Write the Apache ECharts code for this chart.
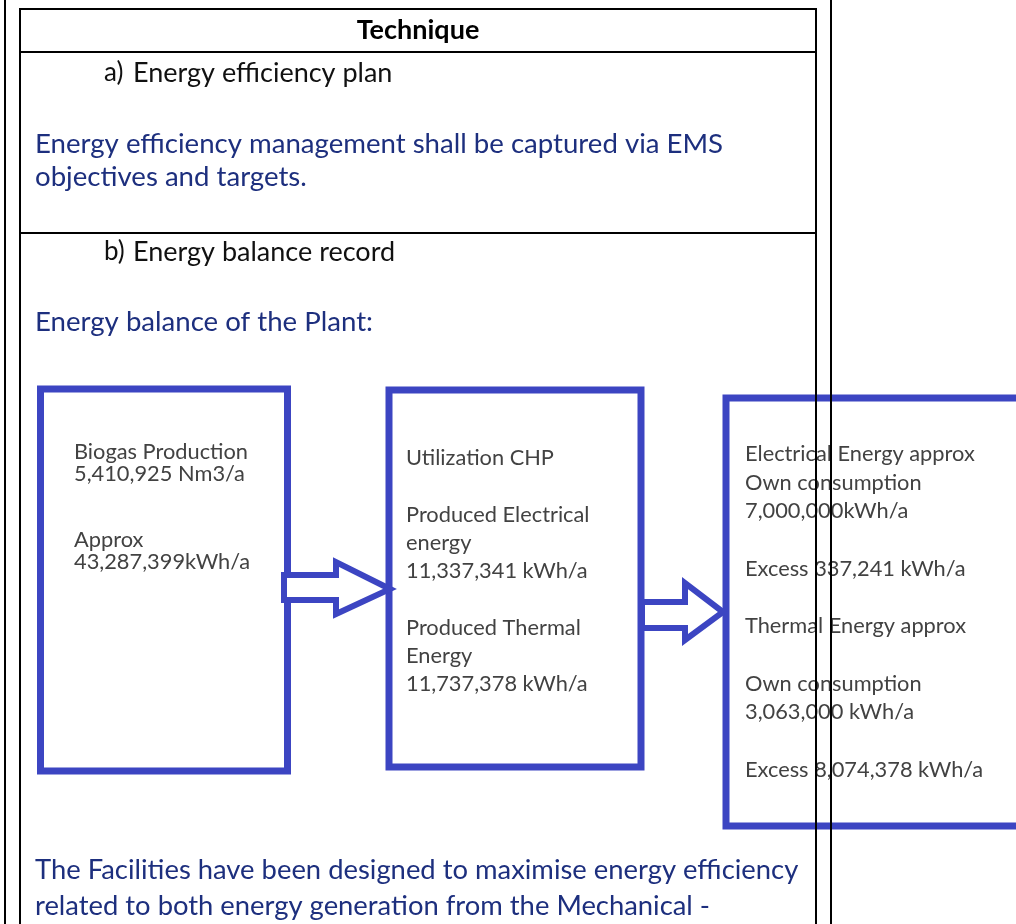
<!DOCTYPE html>
<html>
<head>
<meta charset="utf-8">
<script src="https://cdn.jsdelivr.net/npm/echarts@6/dist/echarts.min.js"></script>
<style>
html,body{margin:0;padding:0;background:#fff;}
#chart{width:1016px;height:924px;}
</style>
</head>
<body>
<div id="chart"></div>
<script>
// ---- content (text data) ----
const headerTitle = "Technique";
const sectionLabels = ["a)", "b)"];
const sectionTitles = ["Energy efficiency plan", "Energy balance record"];
const sectionABody = ["Energy efficiency management shall be captured via EMS", "objectives and targets."];
const sectionBBody = ["Energy balance of the Plant:"];
const footerBody = ["The Facilities have been designed to maximise energy efficiency", "related to both energy generation from the Mechanical -"];
const box1Lines = ["Biogas Production", "5,410,925 Nm3/a", "", "", "Approx", "43,287,399kWh/a"];
const box2Lines = ["Utilization CHP", "", "Produced Electrical", "energy", "11,337,341 kWh/a", "", "Produced Thermal", "Energy", "11,737,378 kWh/a"];
const box3Lines = ["Electrical Energy approx", "Own consumption", "7,000,000kWh/a", "", "Excess 337,241 kWh/a", "", "Thermal Energy approx", "", "Own consumption", "3,063,000 kWh/a", "", "Excess 8,074,378 kWh/a"];

// ---- styles ----
const FONT = "Lato, 'Noto Sans', sans-serif";
const BLUE_TEXT = "#1d2f7e";
const BOX_BLUE = "#3c45c2";
const BOX_TEXT = "#424242";

const chart = echarts.init(document.getElementById('chart'), null, {renderer: 'canvas'});
const g = [];

function txt(str, x, y, size, color, weight, align, z) {
  g.push({
    type: 'text', z: z || 10,
    style: {
      text: str, x: x, y: y,
      fill: color,
      font: (weight || 'normal') + ' ' + size + 'px ' + FONT,
      align: align || 'left', textAlign: align || 'left',
      verticalAlign: 'middle', textVerticalAlign: 'middle'
    }
  });
}
function line(x1, y1, x2, y2, w, color, z) {
  g.push({type: 'line', z: z || 20, shape: {x1, y1, x2, y2}, style: {stroke: color || '#000', lineWidth: w || 2}});
}
function box(x, y, w, h) {
  g.push({type: 'rect', z: 5, shape: {x, y, width: w, height: h}, style: {fill: '#fff', stroke: BOX_BLUE, lineWidth: 7}});
}
function arrow(pts) {
  g.push({type: 'polygon', z: 6, shape: {points: pts}, style: {fill: '#fff', stroke: BOX_BLUE, lineWidth: 6, lineJoin: 'miter'}});
}
function lines(arr, x, y0, lh, size) {
  arr.forEach((s, i) => { if (s) txt(s, x, y0 + i * lh, size, BOX_TEXT, 'normal', 'left', 10); });
}

// boxes + arrows
box(40.5, 389, 247, 382);
box(389, 390, 252, 377);
box(726, 398, 320, 428);
arrow([[284,575],[336,575],[336,562],[390,589],[336,614],[336,600],[284,600]]);
arrow([[642,602],[685,602],[685,583],[723,612],[685,640],[685,628],[642,628]]);

lines(box1Lines, 74, 452, 22, 21.8);
lines(box2Lines, 406, 458, 28.3, 21.8);
lines(box3Lines, 745, 454, 28.7, 21.8);

// header & texts
txt(headerTitle, 418, 30, 27, '#000', 'bold', 'center');
txt(sectionLabels[0], 104, 73, 26, '#111');
txt(sectionTitles[0], 133, 73, 27, '#111');
sectionABody.forEach((s, i) => txt(s, 35, 144 + i * 33, 27.6, BLUE_TEXT));
txt(sectionLabels[1], 104, 252, 26, '#111');
txt(sectionTitles[1], 133, 252, 27, '#111');
sectionBBody.forEach((s, i) => txt(s, 35, 322 + i * 33, 27.6, BLUE_TEXT));
footerBody.forEach((s, i) => txt(s, 35, 870 + i * 36, 27.4, BLUE_TEXT));

// document / table rules
line(5, 0, 5, 924, 2);
line(20, 9, 20, 924, 2);
line(816, 9, 816, 924, 2);
line(831, 0, 831, 924, 2);
line(19, 9, 817, 9, 2);
line(19, 52, 817, 52, 2);
line(19, 233, 817, 233, 2);

chart.setOption({
  backgroundColor: '#fff',
  animation: false,
  graphic: {elements: g}
});
</script>
</body>
</html>
